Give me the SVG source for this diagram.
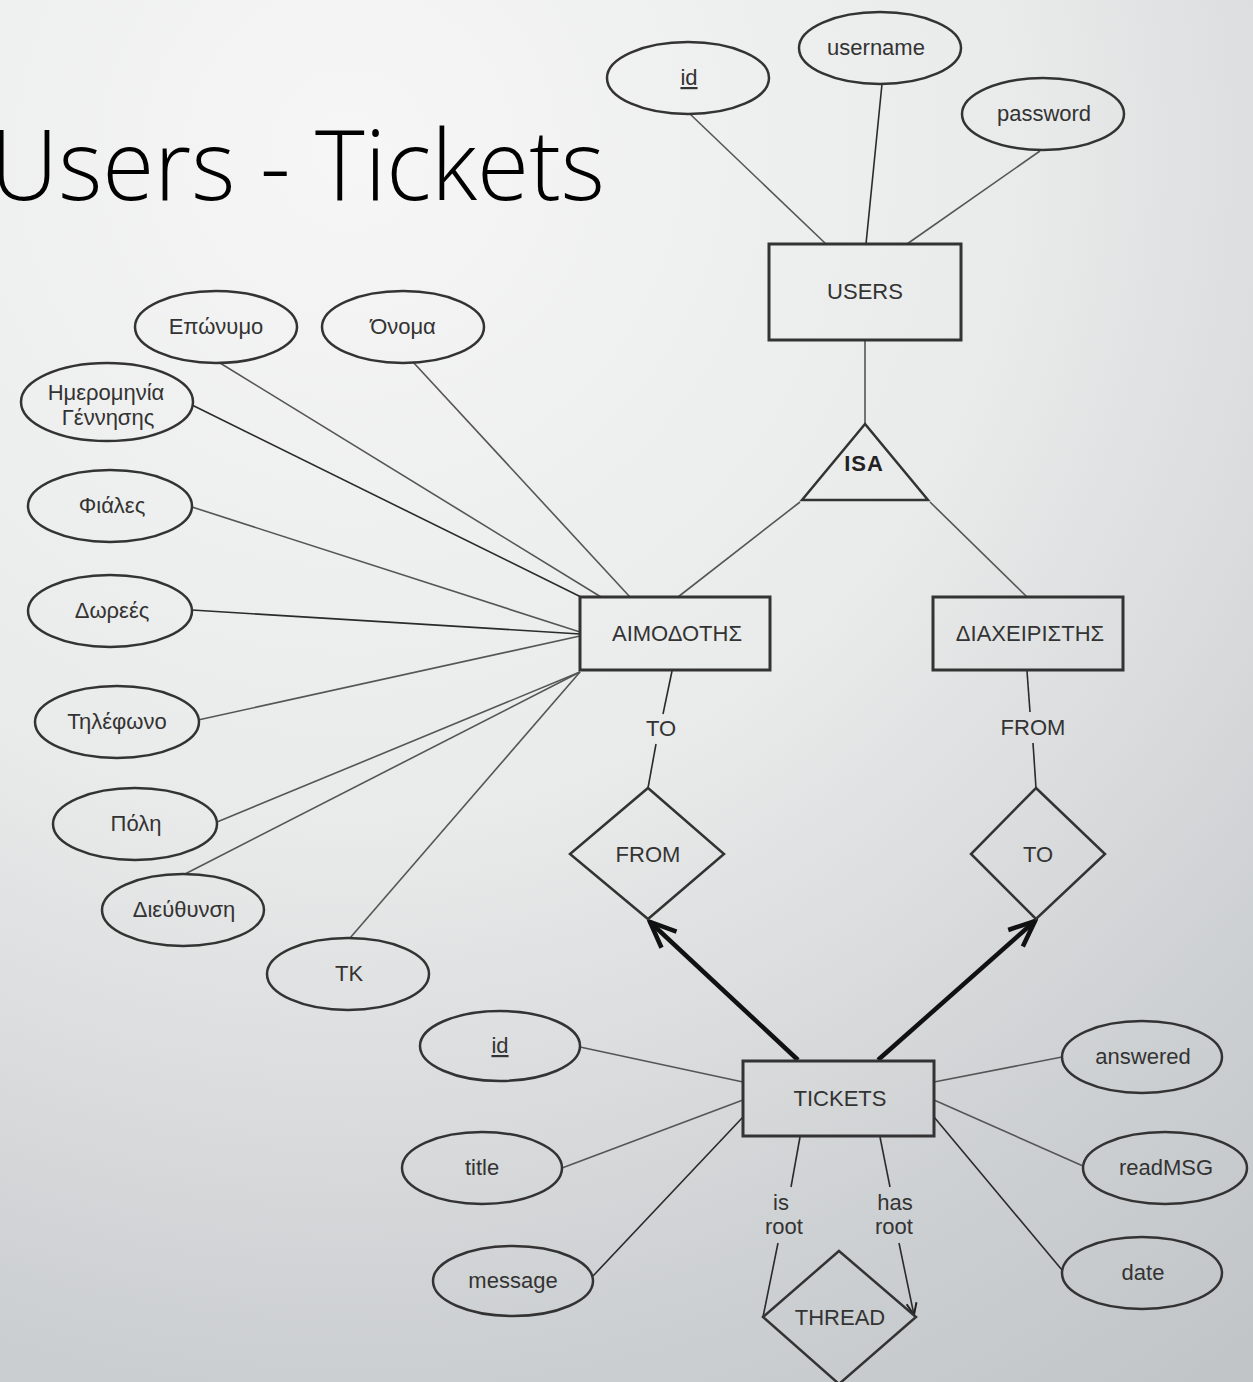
<svg xmlns="http://www.w3.org/2000/svg" width="1253" height="1382" viewBox="0 0 1253 1382">
  <defs>
    <radialGradient id="bg" gradientUnits="userSpaceOnUse" cx="350" cy="150" r="1500">
      <stop offset="0" stop-color="#f6f6f6"/>
      <stop offset="0.45" stop-color="#e9eaea"/>
      <stop offset="0.8" stop-color="#cdd0d2"/>
      <stop offset="1" stop-color="#c2c5c7"/>
    </radialGradient>
    <marker id="bigArrow" markerUnits="userSpaceOnUse" viewBox="0 0 32 32" markerWidth="32" markerHeight="32" refX="29" refY="16" orient="auto">
      <path d="M3,5 L29,16 L3,27" fill="none" stroke="#111" stroke-width="4.5" stroke-linejoin="miter"/>
    </marker>
    <marker id="smallArrow" markerUnits="userSpaceOnUse" viewBox="0 0 16 16" markerWidth="16" markerHeight="16" refX="14" refY="8" orient="auto">
      <path d="M2,3 L14,8 L2,13" fill="none" stroke="#222" stroke-width="2"/>
    </marker>
  </defs>
  <style>
    .title { font-family: "Open Sans", "Liberation Sans", sans-serif; font-size: 97px; font-weight: 300; fill: #000; }
    .lbl { font-family: "Liberation Sans", Arial, sans-serif; font-size: 22px; fill: #333; text-anchor: middle; }
    .isa { font-family: "Liberation Sans", Arial, sans-serif; font-size: 22px; font-weight: bold; fill: #222; text-anchor: middle; letter-spacing: 1px; }
    .key { text-decoration: underline; }
    .ent { fill: none; stroke: #333; stroke-width: 3; }
    .att { fill: none; stroke: #333; stroke-width: 2.5; }
    .rel { fill: none; stroke: #333; stroke-width: 2.5; }
    .ln { fill: none; stroke: #555; stroke-width: 1.6; }
    .dk { fill: none; stroke: #2a2a2a; stroke-width: 1.6; }
    .thick { fill: none; stroke: #111; stroke-width: 4.5; }
  </style>

  <rect x="0" y="0" width="1253" height="1382" fill="url(#bg)"/>

  <!-- slide heading, running off the left edge -->
  <text class="title" x="-10" y="200" textLength="615" lengthAdjust="spacingAndGlyphs">Users - Tickets</text>

  <!-- connectors -->
  <g id="connectors">
    <!-- USERS attributes -->
    <line class="ln" x1="690" y1="114" x2="826" y2="244"/>
    <line class="dk" x1="882" y1="84" x2="866" y2="244"/>
    <line class="ln" x1="1040" y1="151" x2="907" y2="244"/>
    <!-- USERS to ISA -->
    <line class="ln" x1="865" y1="340" x2="865" y2="424"/>
    <!-- ISA to subclasses -->
    <line class="ln" x1="800" y1="502" x2="678" y2="597"/>
    <line class="ln" x1="930" y1="502" x2="1027" y2="597"/>
    <!-- ΑΙΜΟΔΟΤΗΣ attributes -->
    <line class="ln" x1="220" y1="363" x2="601" y2="597"/>
    <line class="ln" x1="413" y1="362" x2="630" y2="597"/>
    <line class="dk" x1="192" y1="405" x2="581" y2="597"/>
    <line class="ln" x1="192" y1="507" x2="580" y2="632"/>
    <line class="dk" x1="192" y1="610" x2="580" y2="634"/>
    <line class="ln" x1="198" y1="720" x2="580" y2="636"/>
    <line class="ln" x1="217" y1="822" x2="580" y2="672"/>
    <line class="ln" x1="185" y1="874" x2="580" y2="672"/>
    <line class="ln" x1="350" y1="938" x2="580" y2="672"/>
    <!-- ΑΙΜΟΔΟΤΗΣ to FROM -->
    <line class="dk" x1="672" y1="671" x2="663" y2="714"/>
    <line class="dk" x1="656" y1="744" x2="648" y2="788"/>
    <!-- ΔΙΑΧΕΙΡΙΣΤΗΣ to TO -->
    <line class="dk" x1="1027" y1="671" x2="1030" y2="712"/>
    <line class="dk" x1="1033" y1="743" x2="1036" y2="788"/>
    <!-- TICKETS to relationships (thick arrows) -->
    <line class="thick" x1="798" y1="1060" x2="650" y2="922" marker-end="url(#bigArrow)"/>
    <line class="thick" x1="878" y1="1060" x2="1035" y2="921" marker-end="url(#bigArrow)"/>
    <!-- TICKETS attributes -->
    <line class="ln" x1="580" y1="1047" x2="743" y2="1082"/>
    <line class="ln" x1="562" y1="1168" x2="743" y2="1100"/>
    <line class="dk" x1="593" y1="1276" x2="743" y2="1117"/>
    <line class="ln" x1="1062" y1="1057" x2="934" y2="1082"/>
    <line class="ln" x1="1083" y1="1166" x2="934" y2="1100"/>
    <line class="dk" x1="1062" y1="1270" x2="934" y2="1117"/>
    <!-- TICKETS to THREAD -->
    <line class="dk" x1="800" y1="1137" x2="791" y2="1187"/>
    <line class="dk" x1="778" y1="1243" x2="763" y2="1317"/>
    <line class="dk" x1="880" y1="1137" x2="890" y2="1187"/>
    <line class="dk" x1="899" y1="1243" x2="914" y2="1315" marker-end="url(#smallArrow)"/>
    <!-- role labels -->
    <text class="lbl" x="661" y="736">TO</text>
    <text class="lbl" x="1033" y="735">FROM</text>
    <text class="lbl" x="781" y="1210">is</text>
    <text class="lbl" x="784" y="1234">root</text>
    <text class="lbl" x="895" y="1210">has</text>
    <text class="lbl" x="894" y="1234">root</text>
  </g>

  <!-- USERS -->
  <g id="users">
    <rect class="ent" x="769" y="244" width="192" height="96"/>
    <text class="lbl" x="865" y="299">USERS</text>
  </g>
  <g id="users-id">
    <ellipse class="att" cx="688" cy="78" rx="81" ry="36"/>
    <text class="lbl key" x="689" y="85">id</text>
  </g>
  <g id="users-username">
    <ellipse class="att" cx="880" cy="48" rx="81" ry="36"/>
    <text class="lbl" x="876" y="55">username</text>
  </g>
  <g id="users-password">
    <ellipse class="att" cx="1043" cy="114" rx="81" ry="36"/>
    <text class="lbl" x="1044" y="121">password</text>
  </g>

  <!-- ISA -->
  <g id="isa">
    <polygon class="rel" points="865,424 802,500 928,500"/>
    <text class="isa" x="864" y="471">ISA</text>
  </g>

  <!-- ΑΙΜΟΔΟΤΗΣ -->
  <g id="aimodotis">
    <rect class="ent" x="580" y="597" width="190" height="73"/>
    <text class="lbl" x="677" y="641">ΑΙΜΟΔΟΤΗΣ</text>
  </g>
  <g id="att-eponymo">
    <ellipse class="att" cx="216" cy="327" rx="81" ry="36"/>
    <text class="lbl" x="216" y="334">Επώνυμο</text>
  </g>
  <g id="att-onoma">
    <ellipse class="att" cx="403" cy="327" rx="81" ry="36"/>
    <text class="lbl" x="403" y="334">Όνομα</text>
  </g>
  <g id="att-hmerominia">
    <ellipse class="att" cx="107" cy="402" rx="86" ry="39"/>
    <text class="lbl" x="106" y="400">Ημερομηνία</text>
    <text class="lbl" x="108" y="425">Γέννησης</text>
  </g>
  <g id="att-fiales">
    <ellipse class="att" cx="110" cy="506" rx="82" ry="36"/>
    <text class="lbl" x="112" y="513">Φιάλες</text>
  </g>
  <g id="att-dorees">
    <ellipse class="att" cx="110" cy="611" rx="82" ry="36"/>
    <text class="lbl" x="112" y="618">Δωρεές</text>
  </g>
  <g id="att-tilefono">
    <ellipse class="att" cx="117" cy="722" rx="82" ry="36"/>
    <text class="lbl" x="117" y="729">Τηλέφωνο</text>
  </g>
  <g id="att-poli">
    <ellipse class="att" cx="135" cy="824" rx="82" ry="36"/>
    <text class="lbl" x="136" y="831">Πόλη</text>
  </g>
  <g id="att-dieuthinsi">
    <ellipse class="att" cx="183" cy="910" rx="81" ry="36"/>
    <text class="lbl" x="184" y="917">Διεύθυνση</text>
  </g>
  <g id="att-tk">
    <ellipse class="att" cx="348" cy="974" rx="81" ry="36"/>
    <text class="lbl" x="349" y="981">ΤΚ</text>
  </g>

  <!-- ΔΙΑΧΕΙΡΙΣΤΗΣ -->
  <g id="diaxeiristis">
    <rect class="ent" x="933" y="597" width="190" height="73"/>
    <text class="lbl" x="1030" y="641">ΔΙΑΧΕΙΡΙΣΤΗΣ</text>
  </g>

  <!-- relationships -->
  <g id="rel-from">
    <polygon class="rel" points="648,788 724,854 648,919 570,854"/>
    <text class="lbl" x="648" y="862">FROM</text>
  </g>
  <g id="rel-to">
    <polygon class="rel" points="1036,788 1105,854 1036,919 971,854"/>
    <text class="lbl" x="1038" y="862">TO</text>
  </g>
  <g id="rel-thread">
    <polygon class="rel" points="839,1251 916,1317 839,1384 763,1317"/>
    <text class="lbl" x="840" y="1325">THREAD</text>
  </g>

  <!-- TICKETS -->
  <g id="tickets">
    <rect class="ent" x="743" y="1061" width="191" height="75"/>
    <text class="lbl" x="840" y="1106">TICKETS</text>
  </g>
  <g id="tickets-id">
    <ellipse class="att" cx="500" cy="1046" rx="80" ry="35"/>
    <text class="lbl key" x="500" y="1053">id</text>
  </g>
  <g id="tickets-title">
    <ellipse class="att" cx="482" cy="1168" rx="80" ry="36"/>
    <text class="lbl" x="482" y="1175">title</text>
  </g>
  <g id="tickets-message">
    <ellipse class="att" cx="513" cy="1281" rx="80" ry="35"/>
    <text class="lbl" x="513" y="1288">message</text>
  </g>
  <g id="tickets-answered">
    <ellipse class="att" cx="1142" cy="1057" rx="80" ry="36"/>
    <text class="lbl" x="1143" y="1064">answered</text>
  </g>
  <g id="tickets-readmsg">
    <ellipse class="att" cx="1165" cy="1168" rx="82" ry="36"/>
    <text class="lbl" x="1166" y="1175">readMSG</text>
  </g>
  <g id="tickets-date">
    <ellipse class="att" cx="1142" cy="1273" rx="80" ry="36"/>
    <text class="lbl" x="1143" y="1280">date</text>
  </g>
</svg>
